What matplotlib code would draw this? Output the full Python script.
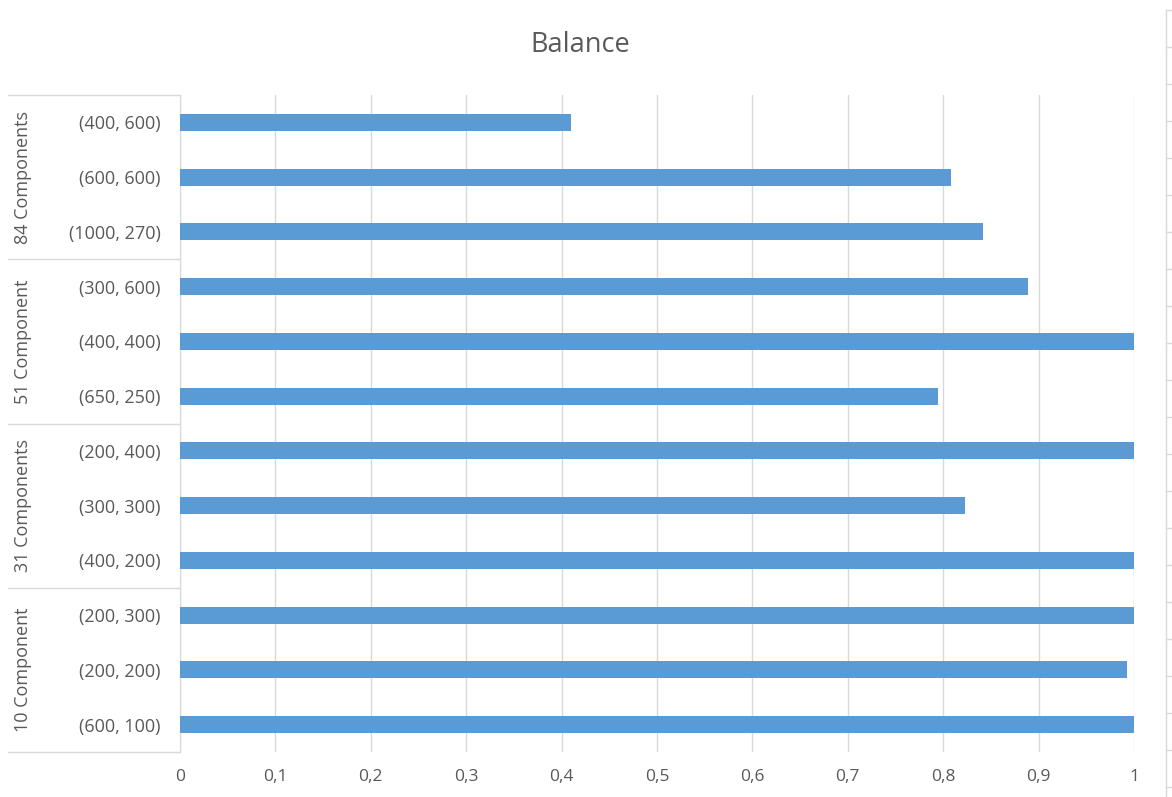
import numpy as np
import matplotlib
matplotlib.use("Agg")
from matplotlib import pyplot as plt
from matplotlib.lines import Line2D

# bottom to top, as in the spreadsheet
labels = ["(600, 100)", "(200, 200)", "(200, 300)",
          "(400, 200)", "(300, 300)", "(200, 400)",
          "(650, 250)", "(400, 400)", "(300, 600)",
          "(1000, 270)", "(600, 600)", "(400, 600)"]
balance = [1.0, 0.993, 1.0,
           1.0, 0.823, 1.0,
           0.795, 1.0, 0.889,
           0.842, 0.808, 0.41]
groups = ["10 Component", "31 Components", "51 Component", "84 Components"]
group_size = [3, 3, 3, 3]

bar_color = "#5B9BD5"
txt = "#595959"
grid_c = "#D9D9D9"

plt.rcParams['font.family'] = ['Open Sans', 'DejaVu Sans']

fig = plt.figure(figsize=(11.72, 7.97), dpi=100)
W, H = 1172, 797
ax = fig.add_axes([180 / W, 1 - 752 / H, (1134 - 180) / W, (752 - 95) / H])

y = np.arange(len(labels))
ax.barh(y, balance, height=0.31, color=bar_color, zorder=3)

ticks = np.arange(0, 1.01, 0.1)
ax.set_xlim(0, 1)
ax.set_ylim(-0.5, len(labels) - 0.5)
ax.set_xticks(ticks)
ax.set_xticklabels(["0" if t == 0 else ("1" if t == 1 else f"{t:.1f}".replace(".", ","))
                    for t in ticks], color=txt, fontsize=12.5)
ax.set_yticks(y)
ax.set_yticklabels(labels, color=txt, fontsize=13)
ax.tick_params(axis="x", length=0, pad=12)
ax.tick_params(axis="y", length=0, pad=14)
ax.grid(axis="x", color=grid_c, linewidth=1, zorder=0)

for s in ["top", "right", "bottom"]:
    ax.spines[s].set_visible(False)
ax.spines["left"].set_color(grid_c)

# group boxes on the category axis
x0 = (8 - 180) / 954
bounds = [-0.5]
for n in group_size:
    bounds.append(bounds[-1] + n)
for b in bounds:
    ax.add_line(Line2D([x0, 0], [b, b], transform=ax.get_yaxis_transform(),
                       color=grid_c, linewidth=1, clip_on=False))
for g, lo, hi in zip(groups, bounds[:-1], bounds[1:]):
    ax.text((23 - 180) / 954, (lo + hi) / 2, g, rotation=90, ha="center", va="center",
            transform=ax.get_yaxis_transform(), color=txt, fontsize=13)

fig.text(580 / W, 1 - 45 / H, "Balance", ha="center", va="center", color=txt, fontsize=19.5)

# sheet border at the right edge of the screenshot
fig.add_artist(Line2D([1166 / W, 1166 / W], [0, 1 - 10 / H], color=grid_c, linewidth=1))
for yy in np.arange(10, H, 37):
    fig.add_artist(Line2D([1166 / W, 1172 / W], [1 - yy / H, 1 - yy / H], color=grid_c, linewidth=1))

fig.savefig("out.png", dpi=100)
